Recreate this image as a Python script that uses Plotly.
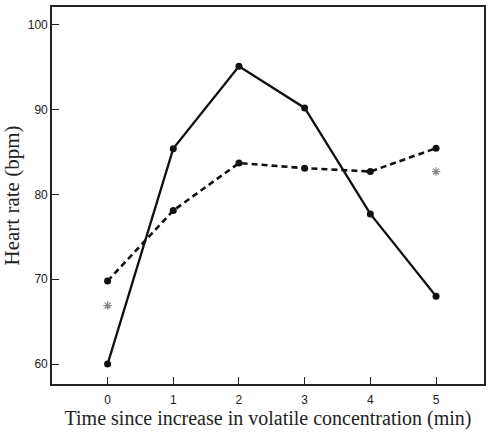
import plotly.graph_objects as go

time_min = [0, 1, 2, 3, 4, 5]
hr_solid = [60.0, 85.4, 95.1, 90.2, 77.7, 68.0]
hr_dashed = [69.8, 78.1, 83.7, 83.1, 82.7, 85.45]
star_x = [0, 5]
star_y = [66.9, 82.7]

fig = go.Figure()
fig.add_trace(go.Scatter(x=time_min, y=hr_dashed, mode="lines+markers",
                         line=dict(color="#111", width=2.6, dash="6px,4px"),
                         marker=dict(size=7, color="#111"), showlegend=False))
fig.add_trace(go.Scatter(x=time_min, y=hr_solid, mode="lines+markers",
                         line=dict(color="#111", width=2.3),
                         marker=dict(size=7, color="#111"), showlegend=False))
fig.add_trace(go.Scatter(x=star_x, y=star_y, mode="markers",
                         marker=dict(symbol="asterisk-open", size=7, color="#888",
                                     line=dict(color="#888", width=1.2)),
                         showlegend=False))

axis_common = dict(showgrid=False, zeroline=False, showline=True, linecolor="#222",
                   linewidth=1.6, mirror=True, ticks="inside", ticklen=7,
                   tickcolor="#222", tickwidth=1.4,
                   tickfont=dict(family="Liberation Sans", size=12, color="#222"))

fig.update_layout(
    width=488, height=434,
    margin=dict(l=52, r=2, t=7, b=50),
    paper_bgcolor="white", plot_bgcolor="white",
    xaxis=dict(range=[-0.846, 5.73], tickvals=time_min, ticktext=[str(t) for t in time_min],
               ticklabelstandoff=4,
               title=dict(text="Time since increase in volatile concentration (min)",
                          font=dict(family="Liberation Serif", size=20, color="#222"),
                          standoff=4),
               **axis_common),
    yaxis=dict(range=[57.65, 102.1], tickvals=[60, 70, 80, 90, 100],
               title=dict(text="Heart rate (bpm)",
                          font=dict(family="Liberation Serif", size=21, color="#222"),
                          standoff=4),
               **axis_common),
)
fig.write_html("out.html")
